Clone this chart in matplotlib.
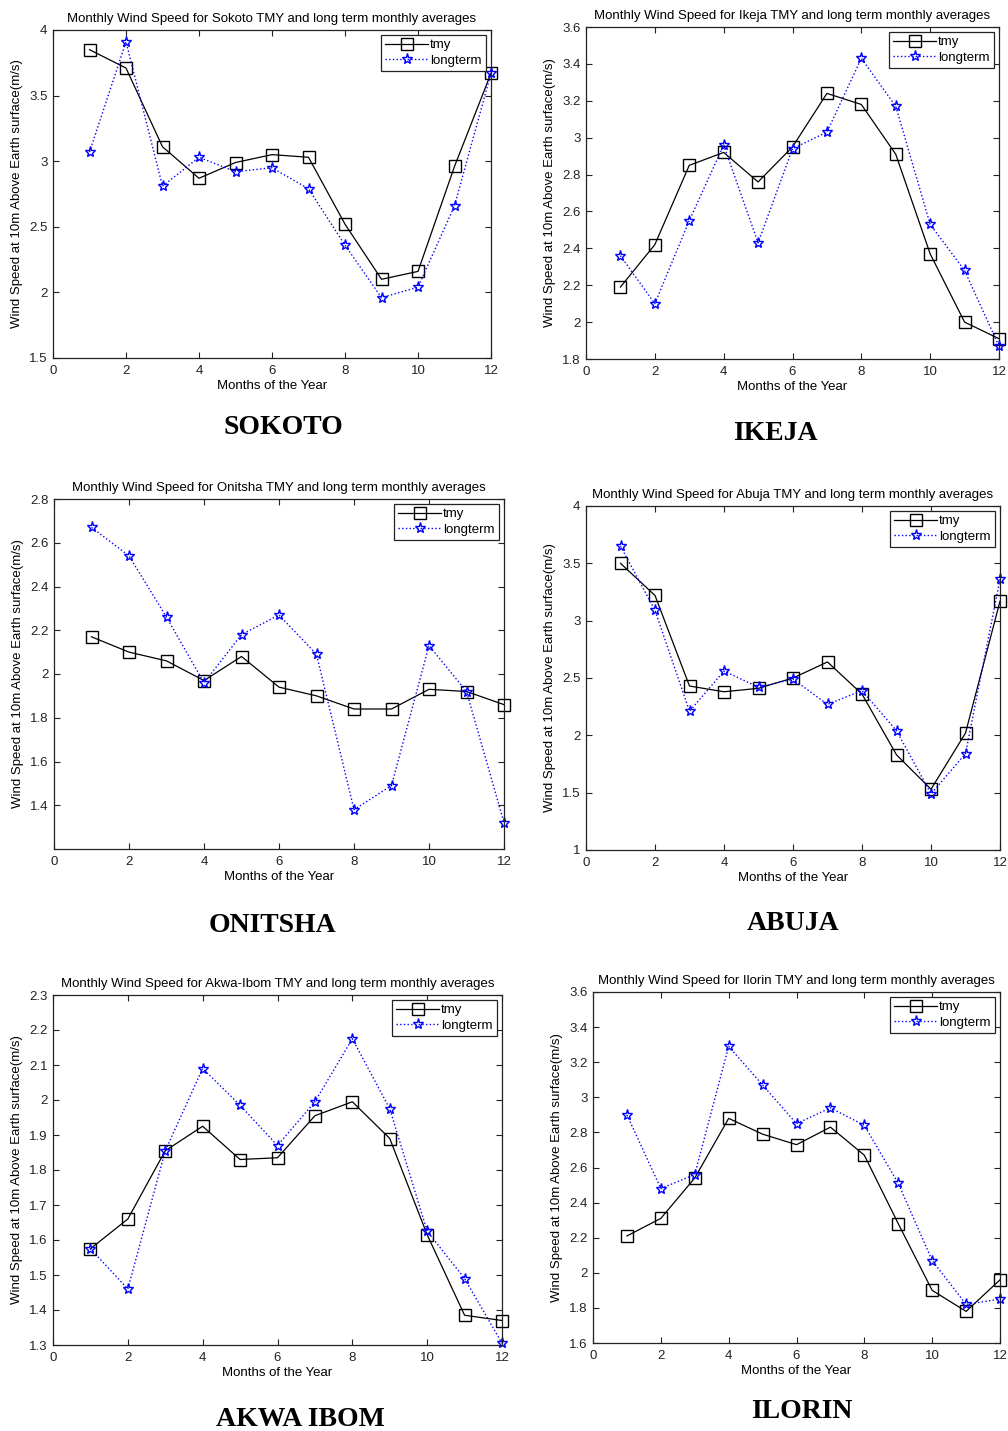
import numpy as np
import matplotlib
matplotlib.use('Agg')
import matplotlib.pyplot as plt

plt.rcParams['font.family'] = ['Liberation Sans', 'DejaVu Sans']

months = np.arange(1, 13)

# Sokoto
sokoto_tmy = [3.85, 3.71, 3.11, 2.87, 2.99, 3.05, 3.03, 2.52, 2.10, 2.16, 2.96, 3.67]
sokoto_lt = [3.07, 3.91, 2.81, 3.03, 2.92, 2.95, 2.79, 2.36, 1.96, 2.04, 2.66, 3.67]

# Ikeja
ikeja_tmy = [2.19, 2.42, 2.85, 2.92, 2.76, 2.95, 3.24, 3.18, 2.91, 2.37, 2.00, 1.91]
ikeja_lt = [2.36, 2.10, 2.55, 2.96, 2.43, 2.94, 3.03, 3.43, 3.17, 2.53, 2.28, 1.87]

# Onitsha
onitsha_tmy = [2.17, 2.10, 2.06, 1.97, 2.08, 1.94, 1.90, 1.84, 1.84, 1.93, 1.92, 1.86]
onitsha_lt = [2.67, 2.54, 2.26, 1.96, 2.18, 2.27, 2.09, 1.38, 1.49, 2.13, 1.92, 1.32]

# Abuja
abuja_tmy = [3.50, 3.22, 2.43, 2.38, 2.41, 2.50, 2.64, 2.36, 1.83, 1.53, 2.02, 3.17]
abuja_lt = [3.65, 3.09, 2.21, 2.56, 2.42, 2.49, 2.27, 2.39, 2.04, 1.49, 1.84, 3.36]

# Akwa-Ibom
akwa_tmy = [1.575, 1.66, 1.855, 1.925, 1.83, 1.835, 1.955, 1.995, 1.89, 1.615, 1.385, 1.37]
akwa_lt = [1.575, 1.46, 1.855, 2.09, 1.985, 1.87, 1.995, 2.175, 1.975, 1.625, 1.49, 1.305]

# Ilorin
ilorin_tmy = [2.21, 2.31, 2.54, 2.88, 2.79, 2.73, 2.83, 2.67, 2.28, 1.90, 1.78, 1.96]
ilorin_lt = [2.90, 2.48, 2.56, 3.29, 3.07, 2.85, 2.94, 2.84, 2.51, 2.07, 1.82, 1.85]

W, H = 1008, 1431
fig = plt.figure(figsize=(W / 100, H / 100), dpi=100)


def rect(l, r, t, b):
    return [l / W, 1 - b / H, (r - l) / W, (b - t) / H]


def panel(box, name, tmy, lt, ylim, yticks, city, cx, cy):
    ax = fig.add_axes(rect(*box))
    ax.plot(months, tmy, 'k-', marker='s', mfc='none', mec='k', ms=8, lw=0.9, label='tmy', clip_on=False)
    ax.plot(months, lt, 'b:', marker='*', mfc='none', mec='b', ms=8, mew=1.0, lw=1.0, label='longterm',
            clip_on=False)
    ax.set_xlim(0, 12)
    ax.set_ylim(*ylim)
    ax.set_xticks(range(0, 13, 2))
    ax.set_yticks(yticks)
    ax.set_yticklabels(['%g' % v for v in yticks])
    ax.tick_params(direction='in', top=True, right=True, labelsize=9.5, length=4, width=0.8,
                   colors='#222222')
    ax.tick_params(axis='x', pad=5)
    ax.tick_params(axis='y', pad=4)
    for s in ax.spines.values():
        s.set_linewidth(0.9)
        s.set_color('#222222')
    ax.set_title('Monthly Wind Speed for %s TMY and long term monthly averages' % name, fontsize=9.5, pad=6)
    ax.set_xlabel('Months of the Year', fontsize=9.5, labelpad=2)
    ax.set_ylabel('Wind Speed at 10m Above Earth surface(m/s)', fontsize=9.5, labelpad=4)
    leg = ax.legend(loc='upper right', fontsize=9.5, numpoints=1, handlelength=3.2, fancybox=False,
                    framealpha=1, edgecolor='#222222', borderpad=0.3, labelspacing=0.25,
                    handletextpad=0.2, borderaxespad=0.4)
    leg.get_frame().set_linewidth(0.9)
    fig.text(cx / W, 1 - cy / H, city, family='Liberation Serif', fontweight='bold', fontsize=20,
             ha='center', va='center')
    return ax


panel((53, 491, 30, 358), 'Sokoto', sokoto_tmy, sokoto_lt, (1.5, 4),
      [1.5, 2, 2.5, 3, 3.5, 4], 'SOKOTO', 283, 428)

panel((586, 999, 27, 359), 'Ikeja', ikeja_tmy, ikeja_lt, (1.8, 3.6),
      [1.8, 2, 2.2, 2.4, 2.6, 2.8, 3, 3.2, 3.4, 3.6], 'IKEJA', 775, 433)

panel((54, 504, 499, 849), 'Onitsha', onitsha_tmy, onitsha_lt, (1.2, 2.8),
      [1.4, 1.6, 1.8, 2, 2.2, 2.4, 2.6, 2.8], 'ONITSHA', 273, 926)

panel((586, 1000, 506, 850), 'Abuja', abuja_tmy, abuja_lt, (1, 4),
      [1, 1.5, 2, 2.5, 3, 3.5, 4], 'ABUJA', 793, 923)

panel((53, 502, 995, 1345), 'Akwa-Ibom', akwa_tmy, akwa_lt, (1.3, 2.3),
      [1.3, 1.4, 1.5, 1.6, 1.7, 1.8, 1.9, 2, 2.1, 2.2, 2.3], 'AKWA IBOM', 300, 1420)

panel((593, 1000, 992, 1343), 'Ilorin', ilorin_tmy, ilorin_lt, (1.6, 3.6),
      [1.6, 1.8, 2, 2.2, 2.4, 2.6, 2.8, 3, 3.2, 3.4, 3.6], 'ILORIN', 802, 1411)

fig.savefig('out.png', dpi=100)
